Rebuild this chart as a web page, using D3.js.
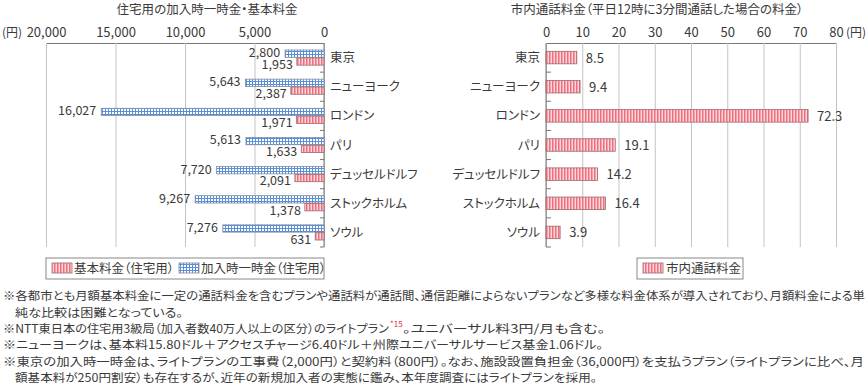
<!DOCTYPE html>
<html>
<head>
<meta charset="utf-8">
<script src="https://cdn.jsdelivr.net/npm/d3@7"></script>
<style>
  body { margin: 0; background: #fff; }
  svg text { font-family: "Noto Sans CJK JP", sans-serif; font-feature-settings: "palt" 1; fill: #3a3a3a; }
</style>
</head>
<body>
<svg id="chart" width="868" height="384"></svg>
<script>
const cities = ['東京', 'ニューヨーク', 'ロンドン', 'パリ', 'デュッセルドルフ', 'ストックホルム', 'ソウル'];
const joinFee = [2800, 5643, 16027, 5613, 7720, 9267, 7276];   // 加入時一時金（住宅用）
const basicFee = [1953, 2387, 1971, 1633, 2091, 1378, 631];    // 基本料金（住宅用）
const callFee = [8.5, 9.4, 72.3, 19.1, 14.2, 16.4, 3.9];       // 市内通話料金
const leftTicks = [0, 5000, 10000, 15000, 20000];
const rightTicks = [0, 10, 20, 30, 40, 50, 60, 70, 80];

const notes = [
  {x: 3, y: 300, w: 862, t: '※各都市とも月額基本料金に一定の通話料金を含むプランや通話料が通話間、通信距離によらないプランなど多様な料金体系が導入されており、月額料金による単'},
  {x: 15, y: 316.5, w: 168, t: '純な比較は困難となっている。'},
  {x: 3, y: 349, w: 600, t: '※ニューヨークは、基本料15.80ドル＋アクセスチャージ6.40ドル＋州際ユニバーサルサービス基金1.06ドル。'},
  {x: 3, y: 365.5, w: 861, t: '※東京の加入時一時金は、ライトプランの工事費（2,000円）と契約料（800円）。なお、施設設置負担金（36,000円）を支払うプラン（ライトプランに比べ、月'},
  {x: 15, y: 381.5, w: 582, t: '額基本料が250円割安）も存在するが、近年の新規加入者の実態に鑑み、本年度調査にはライトプランを採用。'}
];

const svg = d3.select('#chart');
const defs = svg.append('defs');

const redPat = defs.append('pattern').attr('id', 'redStripe')
  .attr('patternUnits', 'userSpaceOnUse').attr('width', 3).attr('height', 3);
redPat.append('rect').attr('width', 3).attr('height', 3).attr('fill', '#fcd6da');
redPat.append('rect').attr('width', 1.5).attr('height', 3).attr('fill', '#ee6f7d');

const bluePat = defs.append('pattern').attr('id', 'blueGrid')
  .attr('patternUnits', 'userSpaceOnUse').attr('width', 3).attr('height', 3);
bluePat.append('rect').attr('width', 3).attr('height', 3).attr('fill', '#5a8fdb');
bluePat.append('rect').attr('x', 1).attr('y', 1).attr('width', 2).attr('height', 2).attr('fill', '#fff');

const plotTop = 43, plotBottom = 247;

const y = d3.scaleBand().domain(cities).range([plotTop, plotBottom]);
const step = y.step();
const ySub = d3.scaleBand().domain(['join', 'basic']).range([7, step - 7]).paddingInner(0.07);

// ---------- left chart ----------
const xL = d3.scaleLinear().domain([0, 20000]).range([324, 46]);

svg.append('text').attr('x', 207).attr('y', 14).attr('text-anchor', 'middle')
  .attr('font-size', 12.5).text('住宅用の加入時一時金・基本料金');

const axL = svg.append('g').attr('transform', `translate(0,${plotTop})`)
  .call(d3.axisTop(xL).tickValues(leftTicks).tickFormat(d3.format(','))
    .tickSizeInner(-(plotBottom - plotTop)).tickSizeOuter(0).tickPadding(6));
axL.select('.domain').attr('stroke', '#777');
axL.selectAll('.tick line').attr('stroke', '#c4c4c4');
axL.selectAll('.tick text').attr('font-size', 13).attr('fill', '#3a3a3a')
  .attr('font-family', '"Noto Sans CJK JP", sans-serif');
svg.append('text').attr('x', 2).attr('y', 37).attr('font-size', 12).text('(円)');

svg.append('line').attr('x1', 324).attr('x2', 324).attr('y1', plotTop).attr('y2', plotBottom)
  .attr('stroke', '#777');
svg.selectAll('.tickL').data(cities).enter().append('line')
  .attr('x1', 320).attr('x2', 324)
  .attr('y1', d => y(d) + step).attr('y2', d => y(d) + step)
  .attr('stroke', '#777');

const gL = svg.selectAll('.cityL').data(cities).enter().append('g');

gL.append('rect')
  .attr('x', (d, i) => xL(joinFee[i]))
  .attr('y', d => y(d) + ySub('join'))
  .attr('width', (d, i) => xL(0) - xL(joinFee[i]))
  .attr('height', ySub.bandwidth())
  .attr('fill', 'url(#blueGrid)').attr('stroke', '#7f8a99').attr('stroke-width', 0.8);

gL.append('rect')
  .attr('x', (d, i) => xL(basicFee[i]))
  .attr('y', d => y(d) + ySub('basic'))
  .attr('width', (d, i) => xL(0) - xL(basicFee[i]))
  .attr('height', ySub.bandwidth())
  .attr('fill', 'url(#redStripe)').attr('stroke', '#9a6a70').attr('stroke-width', 0.8);

gL.append('text')
  .attr('x', (d, i) => xL(joinFee[i]) - 5)
  .attr('y', d => y(d) + ySub('join') + 7)
  .attr('text-anchor', 'end').attr('font-size', 12.5)
  .text((d, i) => d3.format(',')(joinFee[i]));

gL.append('text')
  .attr('x', (d, i) => xL(basicFee[i]) - 4)
  .attr('y', d => y(d) + ySub('basic') + 11)
  .attr('text-anchor', 'end').attr('font-size', 12.5)
  .text((d, i) => d3.format(',')(basicFee[i]));

gL.append('text')
  .attr('x', 330)
  .attr('y', d => y(d) + step / 2 + 4.5)
  .attr('font-size', 12.5)
  .text(d => d);

// left legend
svg.append('rect').attr('x', 46).attr('y', 258).attr('width', 278).attr('height', 21)
  .attr('fill', '#fff').attr('stroke', '#888');
svg.append('rect').attr('x', 52).attr('y', 263).attr('width', 20).attr('height', 10)
  .attr('fill', 'url(#redStripe)').attr('stroke', '#9a6a70').attr('stroke-width', 0.8);
svg.append('text').attr('x', 74).attr('y', 273).attr('font-size', 12.5).text('基本料金（住宅用）');
svg.append('rect').attr('x', 179).attr('y', 263).attr('width', 20).attr('height', 10)
  .attr('fill', 'url(#blueGrid)').attr('stroke', '#7f8a99').attr('stroke-width', 0.8);
svg.append('text').attr('x', 201).attr('y', 273).attr('font-size', 12.5).text('加入時一時金（住宅用）');

// ---------- right chart ----------
const xR = d3.scaleLinear().domain([0, 80]).range([546, 836]);

svg.append('text').attr('x', 657).attr('y', 14).attr('text-anchor', 'middle')
  .attr('font-size', 12.5).text('市内通話料金（平日12時に3分間通話した場合の料金）');

const axR = svg.append('g').attr('transform', `translate(0,${plotTop})`)
  .call(d3.axisTop(xR).tickValues(rightTicks)
    .tickSizeInner(-(plotBottom - plotTop)).tickSizeOuter(0).tickPadding(6));
axR.select('.domain').attr('stroke', '#777');
axR.selectAll('.tick line').attr('stroke', '#c4c4c4');
axR.selectAll('.tick text').attr('font-size', 13).attr('fill', '#3a3a3a')
  .attr('font-family', '"Noto Sans CJK JP", sans-serif');
svg.append('text').attr('x', 846).attr('y', 37).attr('font-size', 12).text('(円)');

svg.append('line').attr('x1', 546).attr('x2', 546).attr('y1', plotTop).attr('y2', plotBottom)
  .attr('stroke', '#777');
svg.selectAll('.tickR').data(cities).enter().append('line')
  .attr('x1', 546).attr('x2', 551)
  .attr('y1', d => y(d) + step).attr('y2', d => y(d) + step)
  .attr('stroke', '#777');

const gR = svg.selectAll('.cityR').data(cities).enter().append('g');
const barH = 12.5;

gR.append('rect')
  .attr('x', xR(0))
  .attr('y', d => y(d) + (step - barH) / 2)
  .attr('width', (d, i) => xR(callFee[i]) - xR(0))
  .attr('height', barH)
  .attr('fill', 'url(#redStripe)').attr('stroke', '#9a6a70').attr('stroke-width', 0.8);

gR.append('text')
  .attr('x', (d, i) => xR(callFee[i]) + 9)
  .attr('y', d => y(d) + step / 2 + 5)
  .attr('font-size', 13)
  .text((d, i) => callFee[i]);

gR.append('text')
  .attr('x', 540)
  .attr('y', d => y(d) + step / 2 + 4.5)
  .attr('text-anchor', 'end').attr('font-size', 12.5)
  .text(d => d);

// right legend
svg.append('rect').attr('x', 637).attr('y', 258).attr('width', 106).attr('height', 21)
  .attr('fill', '#fff').attr('stroke', '#888');
svg.append('rect').attr('x', 643).attr('y', 263).attr('width', 20).attr('height', 10)
  .attr('fill', 'url(#redStripe)').attr('stroke', '#9a6a70').attr('stroke-width', 0.8);
svg.append('text').attr('x', 666).attr('y', 273).attr('font-size', 12.5).text('市内通話料金');

// ---------- notes ----------
svg.selectAll('.note').data(notes).enter().append('text')
  .attr('x', d => d.x).attr('y', d => d.y)
  .attr('font-size', 11.8)
  .attr('textLength', d => d.w).attr('lengthAdjust', 'spacingAndGlyphs')
  .text(d => d.t);

svg.append('text').attr('x', 3).attr('y', 333).attr('font-size', 11.8)
  .attr('textLength', 386).attr('lengthAdjust', 'spacingAndGlyphs')
  .text('※NTT東日本の住宅用3級局（加入者数40万人以上の区分）のライトプラン');
svg.append('text').attr('x', 390).attr('y', 326.5).attr('font-size', 8)
  .style('fill', '#e0303a').text('*15');
svg.append('text').attr('x', 403).attr('y', 333).attr('font-size', 11.8)
  .attr('textLength', 202).attr('lengthAdjust', 'spacingAndGlyphs')
  .text('。ユニバーサル料3円/月も含む。');
</script>
</body>
</html>
